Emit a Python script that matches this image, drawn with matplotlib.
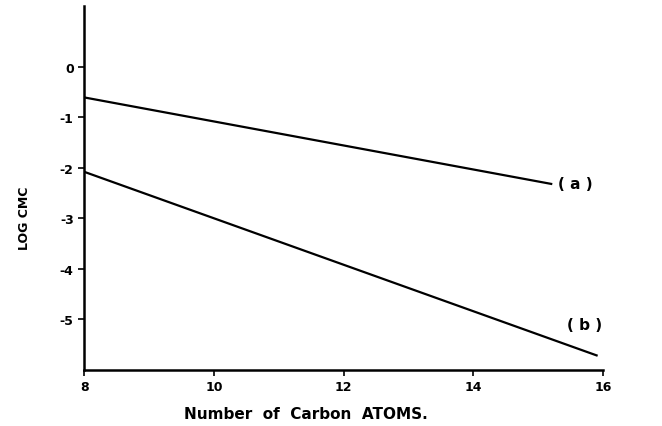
import matplotlib
matplotlib.use('Agg')
import matplotlib.pyplot as plt

# Values
carbon_a = [8, 15.2]
log_cmc_a = [-0.61, -2.32]
carbon_b = [8, 15.9]
log_cmc_b = [-2.08, -5.71]

x_ticks = [8, 10, 12, 14, 16]
y_ticks = [0, -1, -2, -3, -4, -5]

fig = plt.figure(figsize=(6.62, 4.27), dpi=100)
ax = fig.add_axes([0.127, 0.131, 0.784, 0.853])

ax.plot(carbon_a, log_cmc_a, color='black', linewidth=1.6)
ax.plot(carbon_b, log_cmc_b, color='black', linewidth=1.6)

ax.text(carbon_a[-1] + 0.1, log_cmc_a[-1], '( a )', fontsize=11, fontweight='bold',
        va='center', ha='left')
ax.text(15.45, -5.1, '( b )', fontsize=11, fontweight='bold', va='center', ha='left')

ax.set_xlim(8, 16)
ax.set_ylim(-6, 1.2)
ax.set_xticks(x_ticks)
ax.set_yticks(y_ticks)
ax.set_xticklabels([str(t) for t in x_ticks], fontweight='bold', fontsize=9)
ax.set_yticklabels([str(t) for t in y_ticks], fontweight='bold', fontsize=9)

ax.spines['top'].set_visible(False)
ax.spines['right'].set_visible(False)
ax.spines['left'].set_linewidth(1.8)
ax.spines['bottom'].set_linewidth(1.8)
ax.tick_params(axis='both', length=4, width=1.2, colors='black')

ax.set_xlabel('Number  of  Carbon  ATOMS.', fontweight='bold', fontsize=11)
ax.set_ylabel('LOG CMC', fontweight='bold', fontsize=9)
ax.xaxis.set_label_coords(0.428, -0.1)
ax.yaxis.set_label_coords(-0.103, 0.42)

fig.savefig('out.png', dpi=100)
